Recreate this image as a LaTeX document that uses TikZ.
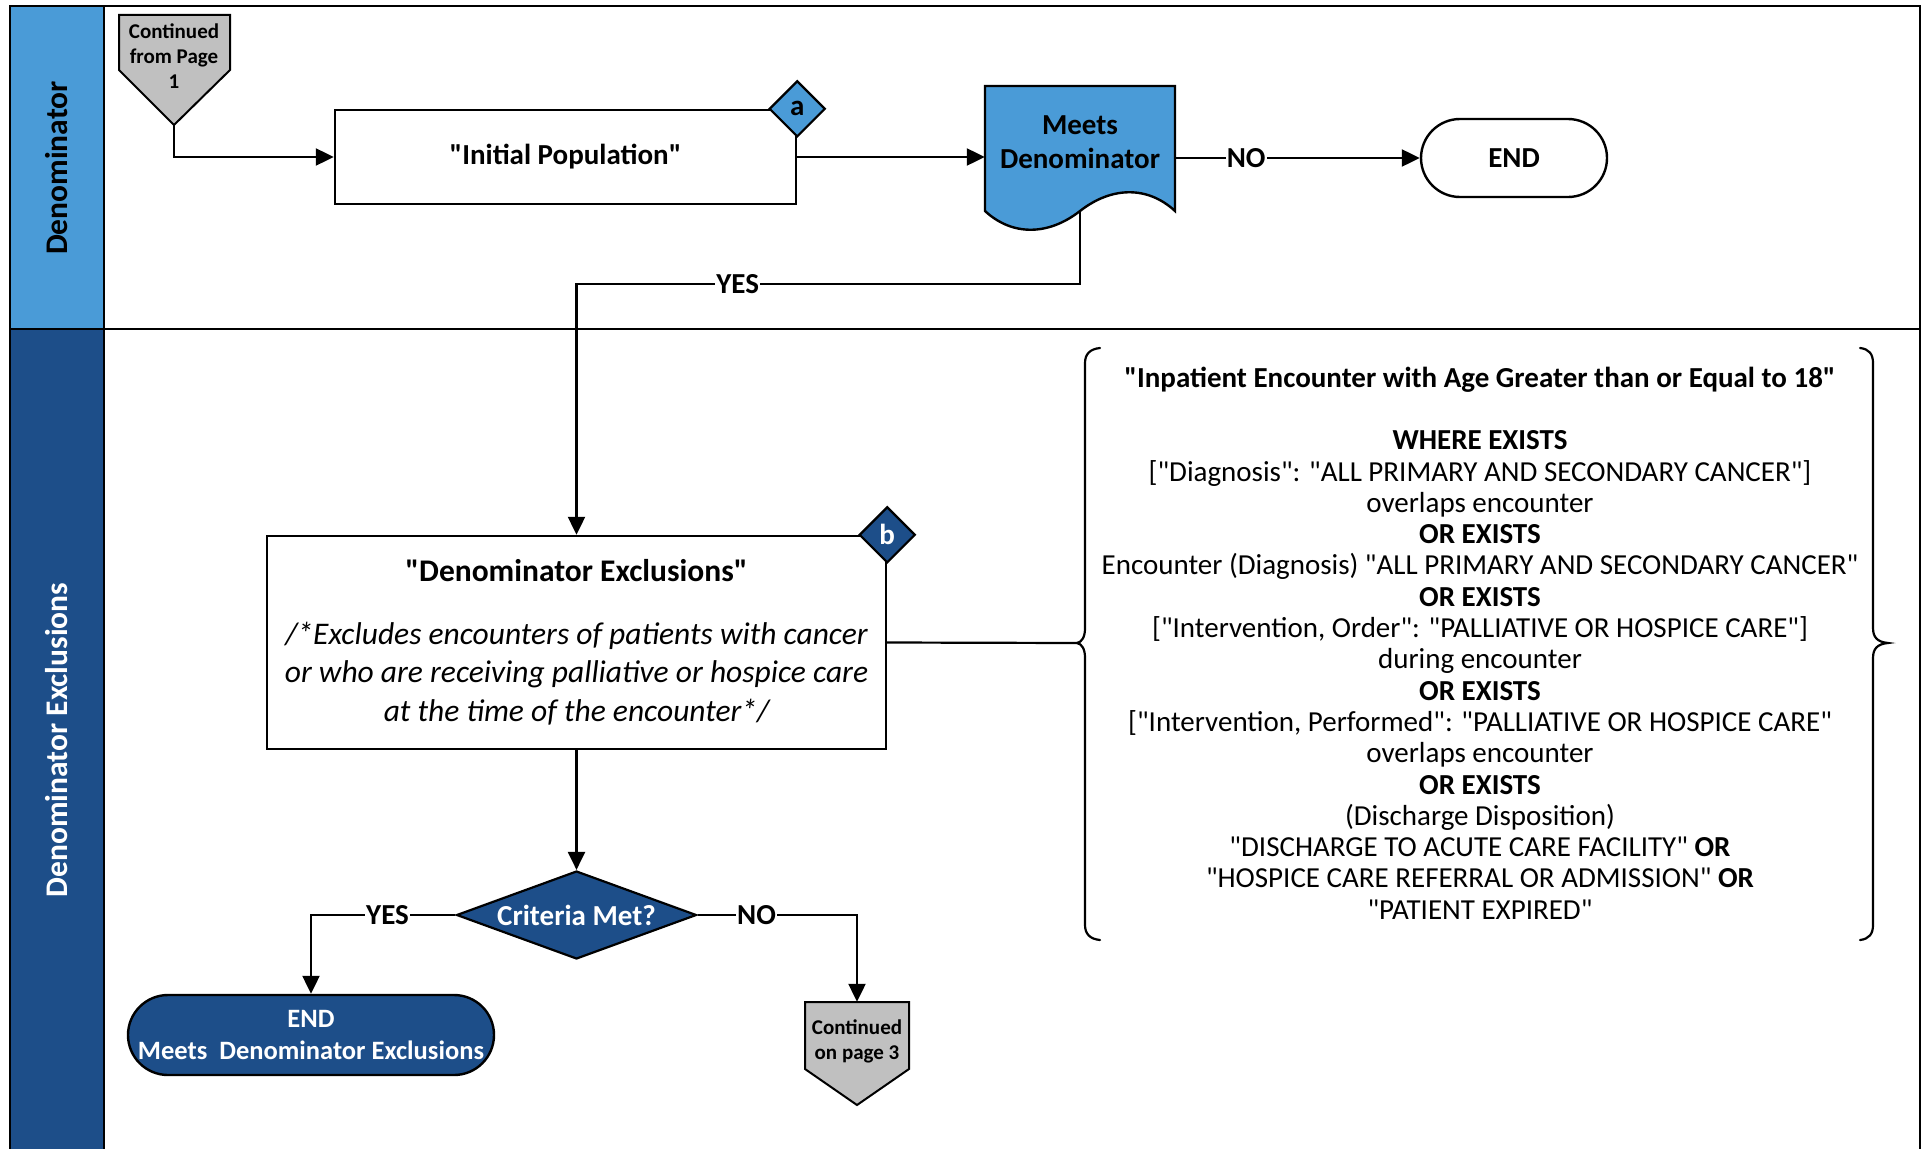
\documentclass[tikz,border=0pt]{standalone}
\usepackage{fontspec}
\setmainfont{Carlito}[Ligatures=TeXOff]
\usetikzlibrary{positioning,shapes.geometric,arrows.meta,backgrounds}

\definecolor{lanelight}{HTML}{4A9BD7}
\definecolor{lanedark}{HTML}{1D4E89}
\definecolor{pagegray}{HTML}{C0C0C0}

\newcommand\bigtxt{\fontsize{29}{34}\selectfont}
\newcommand\smalltxt{\fontsize{21}{25}\selectfont}
\newcommand\lanetxt{\fontsize{31.5}{36}\selectfont}

\tikzset{
  flow/.style={draw, line width=2.2pt, -{Triangle[length=18pt,width=17pt]}},
  plain/.style={draw, line width=2.2pt},
  lane/.style={draw, line width=2.6pt},
  proc/.style={draw, line width=2.4pt, fill=white, align=center, inner sep=0pt},
  term/.style={draw, line width=2.4pt, rounded corners=39pt, align=center, inner sep=0pt},
  conn/.style={draw, line width=2.2pt, shape=diamond, inner sep=0pt,
    minimum size=56pt, font=\bigtxt\bfseries},
  offpage/.style={align=center, inner sep=0pt, font=\smalltxt\bfseries},
  lbl/.style={fill=white, inner sep=1pt, font=\bigtxt\bfseries}
}

\begin{document}
\begin{tikzpicture}[x=1pt,y=1pt]
  \useasboundingbox (0,0) rectangle (1926,-1148);

  % swim lanes
  \draw[lane, fill=lanelight] (10,-6) rectangle (104,-329);
  \draw[lane, fill=lanedark] (10,-329) rectangle (104,-1160);
  \draw[lane] (104,-6) rectangle (1920,-329);
  \draw[lane] (104,-329) rectangle (1920,-1160);
  \node[rotate=90, font=\lanetxt\bfseries] (laneden) at (57,-168) {Denominator};
  \node[rotate=90, text=white, font=\lanetxt\bfseries] (laneexcl) at (57,-740) {Denominator Exclusions};

  % off page connectors
  \filldraw[fill=pagegray, line width=2pt] (119,-15) -- (230,-15) -- (230,-70) -- (174,-125) -- (119,-70) -- cycle;
  \node[offpage] (cont1) at (174,-56) {Continued\\from Page\\1};
  \coordinate (cont1tip) at (174,-125);
  \filldraw[fill=pagegray, line width=2pt] (805,-1002) -- (909,-1002) -- (909,-1069) -- (857,-1105) -- (805,-1069) -- cycle;
  \node[offpage, minimum height=78pt] (cont3) at (857,-1041) {Continued\\on page 3};

  % denominator lane
  \node[proc, minimum width=461pt, minimum height=94pt, font=\bigtxt\bfseries] (ip) at (565.5,-157) {"Initial Population"};
  \node[conn, fill=lanelight] (ca) at (ip.north east) {a};

  \filldraw[fill=lanelight, line width=2.4pt] (985,-86) -- (1175,-86) -- (1175,-211)
    .. controls (1148,-186) and (1112,-186) .. (1080,-211)
    .. controls (1048,-236) and (1012,-236) .. (985,-211) -- cycle;
  \node[align=center, inner sep=0pt, minimum width=190pt, minimum height=113pt,
    font=\bigtxt\bfseries] (meets) at (1080,-142.5) {Meets\\Denominator};

  \node[term, fill=white, minimum width=186pt, minimum height=78pt, font=\bigtxt\bfseries] (endden) at (1514,-158) {END};

  % exclusions lane
  \node[proc, minimum width=619pt, minimum height=213pt, font=\fontsize{31.5}{38.5}\selectfont] (dex) at (576.5,-642.5)
    {\bfseries"Denominator Exclusions"\\[24pt]
     \itshape /*Excludes encounters of patients with cancer\\
     \itshape or who are receiving palliative or hospice care\\
     \itshape at the time of the encounter*/};
  \node[conn, fill=lanedark, text=white] (cb) at (dex.north east) {b};

  \node[shape=diamond, draw, line width=2.2pt, fill=lanedark, text=white, aspect=2.7, inner sep=0pt,
    minimum width=240pt, minimum height=88pt, font=\bigtxt\bfseries] (crit) at (576.5,-915) {Criteria Met?};

  \node[term, fill=lanedark, text=white, rounded corners=40pt, minimum width=366pt, minimum height=80pt,
    font=\fontsize{26.5}{32}\selectfont\bfseries] (endexcl) at (311,-1035) {END\\Meets\ \ Denominator Exclusions};

  % definition text with braces
  \node[align=center, inner sep=0pt, font=\fontsize{29}{31.3}\selectfont] (deftext) at (1480,-643)
    {\textbf{"Inpatient Encounter with Age Greater than or Equal to 18"}\\[31.3pt]
     \textbf{WHERE EXISTS}\\
     {[}"Diagnosis": "ALL PRIMARY AND SECONDARY CANCER"]\\
     overlaps encounter\\
     \textbf{OR EXISTS}\\
     Encounter (Diagnosis) "ALL PRIMARY AND SECONDARY CANCER"\\
     \textbf{OR EXISTS}\\
     {[}"Intervention, Order": "PALLIATIVE OR HOSPICE CARE"]\\
     during encounter\\
     \textbf{OR EXISTS}\\
     {[}"Intervention, Performed": "PALLIATIVE OR HOSPICE CARE"\\
     overlaps encounter\\
     \textbf{OR EXISTS}\\
     (Discharge Disposition)\\
     "DISCHARGE TO ACUTE CARE FACILITY" \textbf{OR}\\
     "HOSPICE CARE REFERRAL OR ADMISSION" \textbf{OR}\\
     "PATIENT EXPIRED"};
  \coordinate (bracetip) at (1077,-643);
  \draw[plain, line cap=round] (1100,-348) .. controls (1090,-349) and (1085,-354) .. (1085,-363)
    -- (1085,-628) .. controls (1085,-637) and (1082,-642) .. (bracetip)
    .. controls (1082,-644) and (1085,-649) .. (1085,-658)
    -- (1085,-925) .. controls (1085,-934) and (1090,-939) .. (1100,-940);
  \draw[plain, line cap=round] (1860,-348) .. controls (1869,-349) and (1873,-354) .. (1873,-363)
    -- (1873,-628) .. controls (1873,-637) and (1877,-642) .. (1888,-643)
    .. controls (1877,-644) and (1873,-649) .. (1873,-658)
    -- (1873,-925) .. controls (1873,-934) and (1869,-939) .. (1860,-940);

  % connectors
  \draw[flow] (cont1tip) |- (ip.west);
  \draw[flow] (ip.east) -- (ip.east -| meets.west);
  \draw[flow] (meets.east |- endden) -- node[lbl, pos=0.29] {NO} (endden.west);
  \draw[flow] ([yshift=-12pt]meets.south) -- ++(0,-73) -| node[lbl, pos=0.34] {YES} (dex.north);
  \draw[flow] (dex.south) -- (crit.north);
  \draw[flow] (crit.west) -| node[lbl, pos=0.235] {YES} (endexcl.north);
  \draw[flow] (crit.east) -| node[lbl, pos=0.185] {NO} (cont3.north);
  \draw[plain] (dex.east) -- (bracetip);
\end{tikzpicture}
\end{document}
